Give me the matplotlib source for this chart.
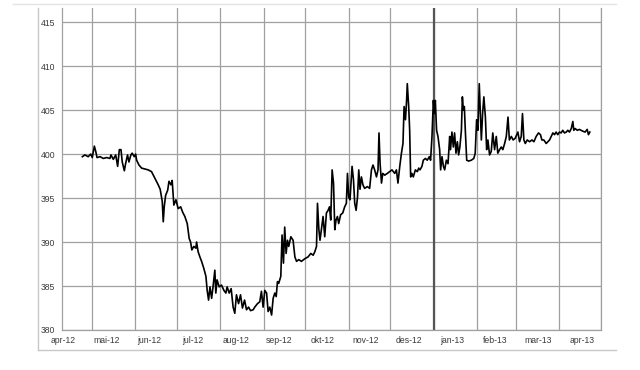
import pandas as pd
import matplotlib
matplotlib.use('Agg')
import matplotlib.pyplot as plt
import matplotlib.dates as mdates
from matplotlib.lines import Line2D

# days after 2012-04-01
start = pd.Timestamp('2012-04-01')
days = [
    23.1, 24.9, 27.3, 29.1, 30.2, 31.7, 32.7, 33.6, 35.8, 38.1, 40.5, 42.9, 43.6, 45.3,
    47.0, 48.4, 49.6, 50.8, 51.7, 53.2, 54.1, 55.5, 56.5, 57.9, 58.8, 60.3, 61.3, 62.0,
    63.7, 65.6, 68.0, 70.3, 72.7, 74.6, 76.1, 77.5, 78.9, 80.4, 81.1, 81.8, 82.8, 84.3,
    85.2, 86.6, 87.5,
    88.7, 90.2, 91.8, 93.6, 95.0, 96.6, 98.3, 99.7, 100.7, 101.6, 103.0, 104.5, 105.0,
    106.1, 107.4, 108.6, 110.2, 111.7, 112.6, 113.6, 114.6, 115.8, 116.8, 118.1, 118.8,
    119.7, 121.2, 122.9, 124.6, 126.0, 126.9, 128.4, 129.8, 131.2, 132.4, 133.6, 135.1,
    136.5, 137.9, 139.4, 140.8, 142.3, 143.7, 145.6,
    146.7, 148.7, 150.3, 151.5, 152.7, 153.9, 155.2, 156.3, 157.5, 158.8, 159.9, 161.1,
    162.1, 163.0, 163.9, 165.4, 166.3, 167.3, 168.2, 169.2, 170.2, 171.1, 172.6, 174.2,
    175.5, 176.7, 178.3, 180.2, 182.6, 184.9, 186.9, 188.6, 189.8, 191.0, 191.7, 192.7,
    193.5, 194.5, 195.7, 196.9, 198.1, 199.3, 200.3, 201.2, 202.2, 203.2, 204.1, 205.0,
    206.0, 206.9, 208.3, 209.8,
    211.2, 212.4, 213.2, 214.1, 215.0, 216.5, 217.5, 218.4, 219.4, 220.4, 221.3, 222.2,
    223.2, 224.3, 225.5, 227.5, 229.1, 230.4, 231.5, 232.7, 234.0, 235.1, 235.8, 236.6,
    237.6, 238.5, 239.9, 241.8, 243.4, 245.1, 247.1, 248.3, 249.4, 250.7, 251.9, 253.0,
    253.8, 254.8, 255.6, 256.1, 257.1, 257.8, 258.5, 259.4, 260.4, 261.9, 263.3, 264.3,
    265.2, 266.6, 267.6, 269.1, 270.4, 271.9, 272.8, 273.8, 274.8, 275.5, 276.2, 277.1,
    278.1,
    279.3, 280.0, 281.0, 282.0, 282.9, 284.1, 285.3, 286.5, 287.1, 288.1, 289.1, 290.0,
    291.0, 292.0, 292.9, 293.8, 294.9, 295.6, 296.3, 297.0, 297.7, 298.7, 300.1, 302.0,
    303.8, 304.8, 305.8, 306.7, 307.7, 308.7, 309.2, 310.1, 311.0, 312.1, 313.0, 313.9,
    315.1, 316.3, 317.4, 318.7, 319.9, 321.0, 322.3, 323.5, 324.6, 325.9, 327.1, 328.3,
    329.3, 330.7, 332.0, 333.5,
    335.4, 336.6, 337.8, 338.7, 339.7, 340.7, 342.1, 343.8, 345.5, 346.9, 348.5, 350.2,
    351.6, 352.6, 354.0, 355.7, 356.9, 358.1, 359.3, 360.5, 361.7, 362.8, 364.0, 365.2,
    366.4, 367.6, 368.8, 370.1, 371.2, 372.4, 373.7, 374.8, 375.5, 376.5, 378.0, 379.5,
    381.9, 383.6, 385.1, 386.0, 387.0,
]
values = [
    399.7, 399.9, 399.7, 400.0, 399.6, 400.9, 400.3, 399.6, 399.7, 399.5, 399.6, 399.5, 399.9, 399.4,
    399.9, 398.6, 400.5, 400.5, 399.1, 398.1, 398.9, 399.9, 399.1, 399.9, 400.1, 399.7, 400.0, 399.3,
    398.75, 398.4, 398.3, 398.2, 398.0, 397.4, 396.9, 396.5, 396.0, 394.6, 392.3, 394.0, 395.3, 395.9,
    396.9, 396.5, 397.0,
    394.2, 394.8, 393.8, 394.0, 393.4, 392.9, 392.1, 390.4, 390.0, 389.1, 389.5, 389.3, 390.0,
    388.9, 388.3, 387.8, 387.0, 386.1, 384.5, 383.4, 384.9, 383.6, 384.9, 386.8, 384.2,
    385.7, 384.9, 385.1, 384.5, 384.2, 384.9, 384.2, 384.7, 382.6, 381.9, 384.0, 383.0,
    384.0, 382.5, 383.4, 382.3, 382.6, 382.2, 382.3,
    382.6, 383.0, 383.2, 384.4, 382.6, 384.5, 384.2, 382.1, 382.6, 381.7, 383.6, 384.2,
    383.8, 385.5, 385.3, 386.1, 390.8, 387.6, 391.7, 388.7, 390.2, 389.5, 390.6, 390.2,
    388.3, 387.8, 388.0, 387.8, 388.1, 388.3, 388.7, 388.5, 388.9, 389.5, 394.4, 391.4,
    390.2, 391.4, 392.9, 390.6, 393.3, 393.6, 394.0, 392.5, 398.2, 396.7, 391.4, 392.5,
    392.9, 392.1, 393.1, 393.3,
    394.0, 394.4, 397.8, 395.1, 394.8, 398.6, 397.1, 394.4, 393.6, 395.1, 398.2, 396.0,
    397.4, 396.5, 396.1, 396.3, 396.1, 398.2, 398.75, 398.2, 397.4, 398.2, 402.4, 398.9,
    396.7, 397.8, 397.6, 397.8, 398.0, 398.2, 397.8, 398.2, 396.7, 398.6, 400.1, 401.2,
    405.4, 403.9, 406.1, 408.0, 405.4, 402.7, 397.4, 397.8, 397.4, 398.2, 398.0, 398.4,
    398.2, 398.6, 399.3, 399.5, 399.3, 399.7, 399.3, 402.0, 406.1, 404.6, 406.1, 402.7,
    402.0,
    400.5, 398.2, 399.7, 398.6, 398.2, 399.3, 398.9, 402.0, 400.5, 402.5, 400.8, 402.4,
    400.1, 401.4, 399.9, 400.8, 402.7, 406.5, 405.0, 405.4, 402.7, 399.3, 399.2, 399.3,
    399.5, 400.1, 403.9, 402.7, 408.0, 403.9, 401.6, 404.6, 406.5, 404.2, 400.5, 401.6,
    399.9, 400.3, 402.4, 400.5, 402.0, 400.1, 400.5, 400.8, 400.5, 401.2, 402.0, 404.2,
    401.6, 402.0, 401.6, 401.8,
    402.5, 401.4, 402.0, 404.6, 401.6, 401.2, 401.6, 401.4, 401.6, 401.4, 402.0, 402.4,
    402.2, 401.6, 401.6, 401.2, 401.4, 401.6, 402.0, 402.4, 402.2, 402.5, 402.2, 402.5,
    402.4, 402.7, 402.4, 402.5, 402.7, 402.5, 402.9, 403.7, 402.7, 402.9, 402.7, 402.8,
    402.6, 402.5, 402.8, 402.2, 402.5,
]
month_labels = ['apr-12', 'mai-12', 'jun-12', 'jul-12', 'aug-12', 'sep-12', 'okt-12',
                'nov-12', 'des-12', 'jan-13', 'feb-13', 'mar-13', 'apr-13']
y_ticks = [380, 385, 390, 395, 400, 405, 410, 415]

dates = start + pd.to_timedelta(days, unit='D')

grid_col = '#a0a0a0'
text_col = '#3a3a3a'
plt.rcParams['font.family'] = ['Liberation Sans', 'DejaVu Sans']

fig = plt.figure(figsize=(6.4, 3.7), dpi=100)

# light outer frame of the chart area
fig.add_artist(Line2D([13 / 640, 616 / 640], [1 - 4 / 370, 1 - 4 / 370], color='#e4e4e4', lw=1.0))
fig.add_artist(Line2D([38 / 640, 38 / 640], [1 - 8 / 370, 1 - 350 / 370], color='#c8c8c8', lw=1.0))
fig.add_artist(Line2D([38 / 640, 616 / 640], [1 - 350 / 370, 1 - 350 / 370], color='#c8c8c8', lw=1.0))

ax = fig.add_axes([62 / 640, 1 - 330 / 370, 539 / 640, 322 / 370])
ax.plot(dates, values, color='black', lw=1.2, zorder=3)

x0 = start + pd.Timedelta(days=8.5)
x1 = pd.Timestamp('2013-05-01')
ax.set_xlim(x0, x1)
ax.set_ylim(380, 416.6)

ax.set_yticks(y_ticks)
ax.xaxis.set_major_locator(mdates.MonthLocator())
ax.xaxis.set_major_formatter(plt.NullFormatter())
label_pos = [mdates.date2num(x0 + pd.Timedelta(days=0.7 + 31 * k)) for k in range(len(month_labels))]
ax.set_xticks(label_pos, minor=True)
ax.set_xticklabels(month_labels, minor=True)

ax.grid(which='major', color=grid_col, lw=0.9, zorder=1)
ax.axvline(pd.Timestamp('2013-01-01'), color='#555555', lw=1.6, zorder=2)

ax.tick_params(which='both', length=0, labelsize=6.2, labelcolor=text_col)
ax.tick_params(axis='y', pad=5)
ax.tick_params(axis='x', which='minor', pad=4)

for side in ['left', 'bottom', 'right']:
    ax.spines[side].set_color(grid_col)
    ax.spines[side].set_linewidth(0.9)
ax.spines['top'].set_visible(False)

fig.savefig('out.png', dpi=100)
